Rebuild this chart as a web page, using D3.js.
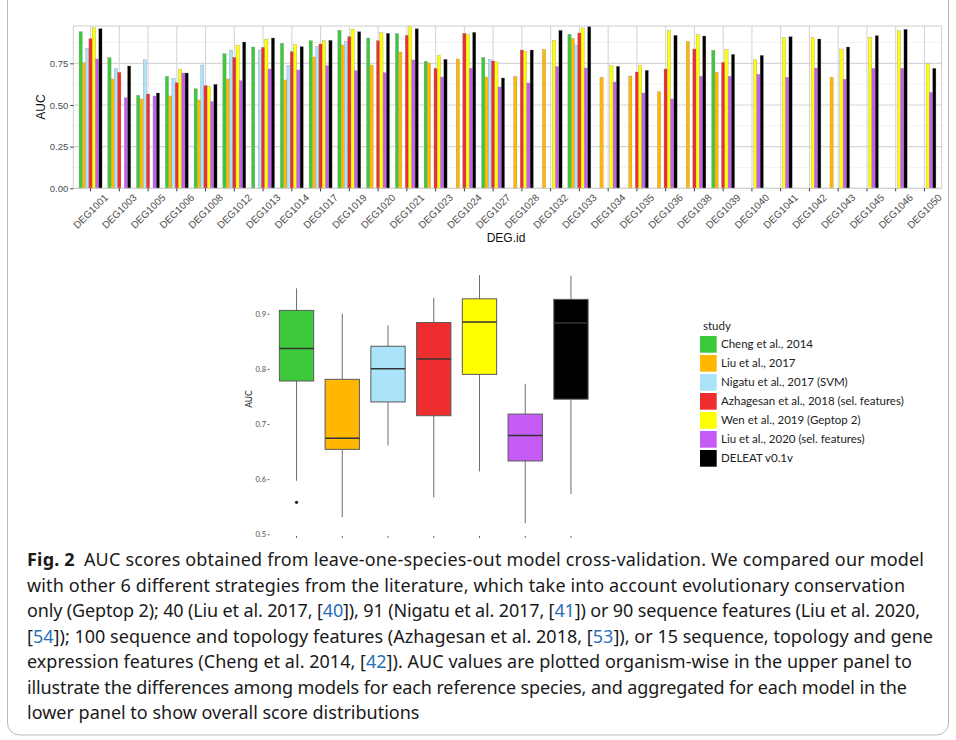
<html>
<script src='https://d3js.org/d3.v7.min.js'></script>
<style>
  body {margin: 0; background: white;}
  .upper text {font-family: "Liberation Sans", Arial, sans-serif;}
  .low text {font-family: Lato, sans-serif;}
</style>
<body>
<svg class="chart" width=956 height=740></svg>
<script>

// organisms on the x axis of the upper panel
var degIds = [1001,1003,1005,1006,1008,1012,1013,1014,1017,1019,1020,1021,1023,1024,1027,
              1028,1032,1033,1034,1035,1036,1038,1039,1040,1041,1042,1043,1045,1046,1050];

var studies = ["Cheng et al., 2014", "Liu et al., 2017", "Nigatu et al., 2017 (SVM)",
               "Azhagesan et al., 2018 (sel. features)", "Wen et al., 2019 (Geptop 2)",
               "Liu et al., 2020 (sel. features)", "DELEAT v0.1v"];

// AUC per organism, one array per study (null = no score)
var cheng     = [.94,.784,.558,.672,.598,.808,.848,.87,.886,.948,.902,.928,.762,null,.786,
                 null,null,.924,null,null,null,null,.828,null,null,null,null,null,null,null];
var liu2017   = [.754,.656,.536,.554,.53,.656,null,.65,.788,.86,.74,.818,.752,.776,.668,
                 .672,.834,.9,.666,.674,.58,.882,.696,null,null,null,.666,null,null,null];
var nigatu    = [.84,.72,.772,.66,.74,.83,.83,.738,.852,.882,null,null,null,null,.772,
                 null,null,.86,null,null,null,null,null,null,null,null,null,null,null,null];
var azhagesan = [.898,.696,.566,.634,.616,.786,.846,.82,.866,.91,.886,.918,.72,.93,.764,
                 .83,null,.932,null,.698,.716,.836,.756,null,null,null,null,null,null,null];
var wen       = [.964,null,null,.714,.612,.86,.896,.862,.886,.956,.934,.974,.798,.924,.758,
                 .822,.888,.962,.736,.736,.948,.924,.834,.772,.904,.906,.836,.906,.946,.75];
var liu2020   = [.776,.544,.554,.692,.52,.646,.716,.71,.736,.706,.694,.77,.668,.72,.608,
                 .632,.73,.722,.638,.572,.536,.672,.672,.684,.666,.722,.654,.72,.72,.576];
var deleat    = [.958,.734,.572,.692,.624,.878,.902,.85,.888,.94,.93,.958,.774,.936,.662,
                 .83,.948,.972,.732,.708,.918,.914,.804,.798,.91,.896,.848,.916,.954,.72];
var series = [cheng, liu2017, nigatu, azhagesan, wen, liu2020, deleat];

// boxplot summaries for the lower panel, in study order
var boxLow  = [.597,.531,.661,.567,.614,.520,.573];
var boxQ1   = [.778,.654,.740,.715,.790,.633,.745];
var boxMed  = [.837,.674,.800,.818,.885,.679,.883];
var boxQ3   = [.906,.781,.841,.884,.927,.718,.926];
var boxHigh = [.946,.900,.879,.929,.970,.773,.969];
var boxOutliers = [[.558],[],[],[],[],[],[]];

var aucTicks = [0, 0.25, 0.5, 0.75];
var aucMinor = [0.125, 0.375, 0.625, 0.875];
var boxTicks = [0.5, 0.6, 0.7, 0.8, 0.9];

var studyColors = ["#3cc93a", "#ffb700", "#abe3fa", "#ee2d2f", "#ffff00", "#c65cf6", "#000000"];

var captionLines = [
  "AUC scores obtained from leave-one-species-out model cross-validation. We compared our model",
  "with other 6 different strategies from the literature, which take into account evolutionary conservation",
  "only (Geptop 2); 40 (Liu et al. 2017, [40]), 91 (Nigatu et al. 2017, [41]) or 90 sequence features (Liu et al. 2020,",
  "[54]); 100 sequence and topology features (Azhagesan et al. 2018, [53]), or 15 sequence, topology and gene",
  "expression features (Cheng et al. 2014, [42]). AUC values are plotted organism-wise in the upper panel to",
  "illustrate the differences among models for each reference species, and aggregated for each model in the",
  "lower panel to show overall score distributions"
];
// where each justified caption line ends (last line is ragged)
var captionEnds = [924, 905, 920, 933, 912, 907, null];

var svg = d3.select(".chart");

// card frame
svg.append("rect")
  .attr("x", 7.5).attr("y", -30).attr("width", 941).attr("height", 765).attr("rx", 12)
  .attr("fill", "none").attr("stroke", "#b9b9b9");

// ---------------- upper panel ----------------
var upper = svg.append("g").attr("class", "upper");
var x = d3.scaleBand().domain(degIds).range([73.3, 941.7]).paddingInner(0).paddingOuter(0.1);
var xs = d3.scaleBand().domain(d3.range(studies.length)).range([0, x.step() * 0.8]);
var y = d3.scaleLinear().domain([0, 0.974]).range([188.3, 26]);

// grid
upper.selectAll(".minor").data(aucMinor).enter().append("line")
  .attr("x1", 73.3).attr("x2", 941.7)
  .attr("y1", function(d) { return y(d); }).attr("y2", function(d) { return y(d); })
  .attr("stroke", "#ebebeb").attr("stroke-width", 0.6);
upper.selectAll(".major").data(aucTicks).enter().append("line")
  .attr("x1", 73.3).attr("x2", 941.7)
  .attr("y1", function(d) { return y(d); }).attr("y2", function(d) { return y(d); })
  .attr("stroke", "#d6d6d6").attr("stroke-width", 1.1);
upper.selectAll(".vgrid").data(degIds).enter().append("line")
  .attr("x1", function(d) { return x(d) + x.step() / 2; })
  .attr("x2", function(d) { return x(d) + x.step() / 2; })
  .attr("y1", 26).attr("y2", 188.3)
  .attr("stroke", "#d6d6d6").attr("stroke-width", 1.1);

// bars, grouped by organism
series.forEach(function(vals, j) {
  upper.append("g").selectAll("rect")
    .data(vals.map(function(v, i) { return {id: degIds[i], v: v}; })
              .filter(function(d) { return d.v != null; }))
    .enter().append("rect")
      .attr("x", function(d) { return x(d.id) + x.step() * 0.1 + xs(j); })
      .attr("width", xs.bandwidth())
      .attr("y", function(d) { return y(d.v); })
      .attr("height", function(d) { return y(0) - y(d.v); })
      .attr("fill", studyColors[j])
      .attr("stroke", "#8a8a8a").attr("stroke-width", 0.3);
});

upper.append("rect")
  .attr("x", 73.3).attr("y", 26).attr("width", 868.4).attr("height", 162.3)
  .attr("fill", "none").attr("stroke", "#cfcfcf").attr("stroke-width", 1);

// y axis
var yAxis = upper.append("g")
  .attr("transform", "translate(73.3,0)")
  .call(d3.axisLeft(y).tickValues(aucTicks).tickFormat(d3.format(".2f")).tickSize(3).tickPadding(2));
yAxis.select(".domain").remove();
yAxis.selectAll("line").attr("stroke", "#333");
yAxis.selectAll("text").attr("font-size", "9.5px").attr("fill", "#4d4d4d");

// x axis
var xAxis = upper.append("g")
  .attr("transform", "translate(0,188.3)")
  .call(d3.axisBottom(x).tickSize(3).tickFormat(function(d) { return "DEG" + d; }));
xAxis.select(".domain").remove();
xAxis.selectAll("line").attr("stroke", "#333");
xAxis.selectAll("text")
  .attr("y", 0).attr("dy", "0.35em")
  .attr("text-anchor", "middle")
  .attr("transform", "translate(0,23) rotate(-45)")
  .attr("font-size", "10px").attr("fill", "#4d4d4d");

upper.append("text").attr("x", 506).attr("y", 242).attr("text-anchor", "middle")
  .attr("font-size", "12px").attr("fill", "#111").text("DEG.id");
upper.append("text").attr("transform", "translate(45,107) rotate(-90)").attr("text-anchor", "middle")
  .attr("font-size", "12px").attr("fill", "#111").text("AUC");

// ---------------- lower panel ----------------
var low = svg.append("g").attr("class", "low");
var xb = d3.scaleBand().domain(studies).range([269.1, 598.4]).paddingInner(0).paddingOuter(0.1);
var yb = d3.scaleLinear().domain([0.5, 0.9]).range([534.3, 313.7]);
var half = xb.step() * 0.375;

var boxes = low.selectAll(".box").data(studies).enter().append("g")
  .attr("transform", function(d) { return "translate(" + (xb(d) + xb.step() / 2) + ",0)"; });
boxes.append("line")
  .attr("y1", function(d, i) { return yb(boxHigh[i]); })
  .attr("y2", function(d, i) { return yb(boxLow[i]); })
  .attr("stroke", "#6e6e6e").attr("stroke-width", 1);
boxes.append("rect")
  .attr("x", -half).attr("width", half * 2)
  .attr("y", function(d, i) { return yb(boxQ3[i]); })
  .attr("height", function(d, i) { return yb(boxQ1[i]) - yb(boxQ3[i]); })
  .attr("fill", function(d, i) { return studyColors[i]; })
  .attr("stroke", "#5a5a5a").attr("stroke-width", 1);
boxes.append("line")
  .attr("x1", -half).attr("x2", half)
  .attr("y1", function(d, i) { return yb(boxMed[i]); })
  .attr("y2", function(d, i) { return yb(boxMed[i]); })
  .attr("stroke", "#333").attr("stroke-width", 1.5);
boxes.selectAll("circle")
  .data(function(d, i) { return boxOutliers[i]; })
  .enter().append("circle")
    .attr("cy", function(d) { return yb(d); }).attr("r", 1.6).attr("fill", "#222");

var byAxis = low.append("g")
  .attr("transform", "translate(269.5,0)")
  .call(d3.axisLeft(yb).tickValues(boxTicks).tickFormat(d3.format(".1f")).tickSize(2).tickPadding(1.5));
byAxis.select(".domain").remove();
byAxis.selectAll("line").attr("stroke", "#666");
byAxis.selectAll("text").attr("font-size", "7.5px").attr("fill", "#4d4d4d");

var bxAxis = low.append("g")
  .attr("transform", "translate(0,536)")
  .call(d3.axisBottom(xb).tickSize(2).tickFormat(""));
bxAxis.select(".domain").remove();
bxAxis.selectAll("line").attr("stroke", "#666");

low.append("text").attr("transform", "translate(252,399) rotate(-90)").attr("text-anchor", "middle")
  .attr("font-size", "8.5px").attr("fill", "#222").text("AUC");

// legend
var legend = low.append("g").attr("transform", "translate(700,0)");
legend.append("text").attr("x", 3).attr("y", 330).attr("font-size", "11.5px").attr("fill", "#222").text("study");
var keys = legend.selectAll(".key").data(studies).enter().append("g")
  .attr("transform", function(d, i) { return "translate(0," + (336 + i * 19) + ")"; });
keys.append("rect").attr("width", 16.7).attr("height", 16.7)
  .attr("fill", function(d, i) { return studyColors[i]; });
keys.append("text").attr("x", 21).attr("y", 8.4).attr("dy", "0.35em")
  .attr("font-size", "11.5px").attr("fill", "#222").text(function(d) { return d; });

// ---------------- caption ----------------
var cap = svg.append("g").attr("font-family", "'Noto Sans', sans-serif").attr("font-size", "18px").attr("fill", "#1a1a1a");
captionLines.forEach(function(line, k) {
  var t = cap.append("text").attr("x", 27).attr("y", 566 + k * 25.5);
  if (captionEnds[k]) t.attr("textLength", captionEnds[k] - 27).attr("lengthAdjust", "spacing");
  if (k == 0) {
    t.append("tspan").attr("font-weight", "bold").text("Fig. 2");
    t.append("tspan").text("\u2002");
  }
  line.split(/(\[\d+\])/).forEach(function(part) {
    var m = part.match(/^\[(\d+)\]$/);
    if (m) {
      t.append("tspan").text("[");
      t.append("tspan").attr("fill", "#2a6ebb").text(m[1]);
      t.append("tspan").text("]");
    } else if (part.length) {
      t.append("tspan").text(part);
    }
  });
});

</script>
</body>
</html>
